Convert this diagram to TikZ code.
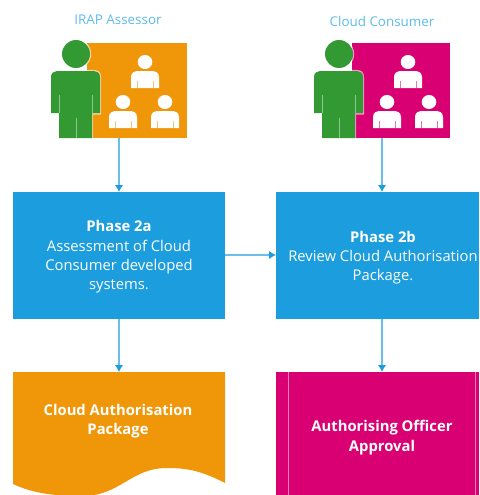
\documentclass[tikz,border=0pt]{standalone}
\usepackage{fontspec}
\setmainfont{Open Sans}
\definecolor{cblue}{HTML}{1B9DDE}
\definecolor{cline}{HTML}{6CBEEA}
\definecolor{corange}{HTML}{F09609}
\definecolor{cpink}{HTML}{D80073}
\definecolor{cgreen}{HTML}{339933}
\definecolor{chead}{HTML}{5DBBEA}
\usetikzlibrary{arrows.meta}
\tikzset{
  px/.style={x=1pt,y=-1pt},
  flowbox/.style={rectangle,fill=cblue,minimum width=#1,minimum height=127pt,inner sep=0pt,outer sep=0pt,anchor=north west},
  endbox/.style={rectangle,minimum width=#1,minimum height=123pt,inner sep=0pt,outer sep=0pt,anchor=north west},
  iconbox/.style={rectangle,minimum width=#1,minimum height=95pt,inner sep=0pt,outer sep=0pt,anchor=north west},
  boxtext/.style={white,align=center,font=\fontsize{14.8}{19.3}\selectfont,inner sep=0pt},
  boldtext/.style={white,align=center,font=\bfseries\fontsize{14.8}{19.3}\selectfont,inner sep=0pt},
  titletext/.style={chead,font=\fontsize{13.4}{16}\selectfont,inner sep=0pt},
  flow/.style={cline,line width=1.2pt,-{Latex[length=7pt,width=8.5pt,color=cblue]}},
}
% small white person at head centre (#1,#2); #3 is the colour of the ground
\newcommand{\smallperson}[3]{%
  \fill[white] (#1,#2) ellipse [x radius=7.3pt,y radius=7pt];
  \fill[white] (#1-14,#2+26) -- (#1-14,#2+15) .. controls (#1-14,#2+10) and (#1-10,#2+9) .. (#1-6,#2+9) -- (#1+6,#2+9) .. controls (#1+10,#2+9) and (#1+14,#2+10) .. (#1+14,#2+15) -- (#1+14,#2+26) -- cycle;
  \draw[#3,opacity=.55,line width=.9pt] (#1-8,#2+19) -- (#1-8,#2+26) (#1+8,#2+19) -- (#1+8,#2+26);
}
% large green person with head centre x=#1
\newcommand{\greenperson}[1]{%
  \fill[white,opacity=.6] (#1,54) circle [radius=15.2pt];
  \fill[white,opacity=.6] (#1-26,114.5) -- (#1-26,77) .. controls (#1-26,72) and (#1-23,70) .. (#1-19,70) -- (#1+18,70) .. controls (#1+22,70) and (#1+25,72) .. (#1+25,77) -- (#1+25,114.5) -- (#1+17,114.5) -- (#1+17,139) -- (#1-18,139) -- (#1-18,114.5) -- cycle;
  \fill[cgreen] (#1,54) circle [radius=14pt];
  \fill[cgreen] (#1-25,113) -- (#1-25,77) .. controls (#1-25,73) and (#1-22,71) .. (#1-19,71) -- (#1+18,71) .. controls (#1+21,71) and (#1+24,73) .. (#1+24,77) -- (#1+24,113) -- (#1+16,113) -- (#1+16,138) -- (#1-17,138) -- (#1-17,113) -- cycle;
  \draw[white,opacity=.45,line width=.8pt] (#1-17,95) -- (#1-17,113) (#1+16,95) -- (#1+16,113) (#1,118) -- (#1,138);
}
\begin{document}
\begin{tikzpicture}[px]
\useasboundingbox (0,0) rectangle (479,495);
\begin{scope}
\clip (0,0) rectangle (479,495);
% icon backgrounds
\node[iconbox=100pt,fill=corange] (orangeicon) at (87,43) {};
\node[iconbox=98pt,fill=cpink] (pinkicon) at (352,43) {};
\greenperson{76}
\greenperson{339}
\smallperson{145}{62}{corange}
\smallperson{123}{102}{corange}
\smallperson{165}{102}{corange}
\smallperson{408}{62}{cpink}
\smallperson{387}{102}{cpink}
\smallperson{429}{102}{cpink}
% titles
\node[titletext] (assessor) at (118,20) {IRAP Assessor};
\node[titletext] (consumer) at (382,21) {Cloud Consumer};
% process boxes
\node[flowbox=212pt] (p2a) at (13,192) {};
\node[flowbox=203pt] (p2b) at (276,192) {};
\node[boxtext] (p2atext) at (119,257) {\textbf{Phase 2a}\\Assessment of Cloud\\Consumer developed\\systems.};
\node[boxtext] (p2btext) at (383,257.5) {\textbf{Phase 2b}\\Review Cloud Authorisation\\Package.};
% document
\fill[corange] (13,372) -- (225,372) -- (225,483) .. controls (200,470) and (185,468) .. (167,468) .. controls (130,468) and (120,497) .. (80,496) .. controls (50,496) and (30,492) .. (13,484) -- cycle;
\coordinate (docbox) at (119,372);
\node[boldtext] (doctext) at (118,421) {Cloud Authorisation\\Package};
% predefined process
\node[endbox=203pt,fill=cpink] (approval) at (276,372) {};
\draw[white,opacity=.5,line width=.9pt] (288,372) -- (288,495) (475.5,372) -- (475.5,495);
\node[boldtext] (apptext) at (382,437.5) {Authorising Officer\\Approval};
\end{scope}
% connectors
\coordinate (oa) at (119,138);
\coordinate (pa) at (382,138);
\draw[flow] (oa) -- (p2a.north -| oa);
\draw[flow] (pa) -- (p2b.north -| pa);
\draw[flow] (p2a.east |- 0,255) -- (p2b.west |- 0,255);
\draw[flow] (p2a.south -| oa) -- (docbox);
\draw[flow] (p2b.south -| pa) -- (approval.north -| pa);
\end{tikzpicture}
\end{document}
